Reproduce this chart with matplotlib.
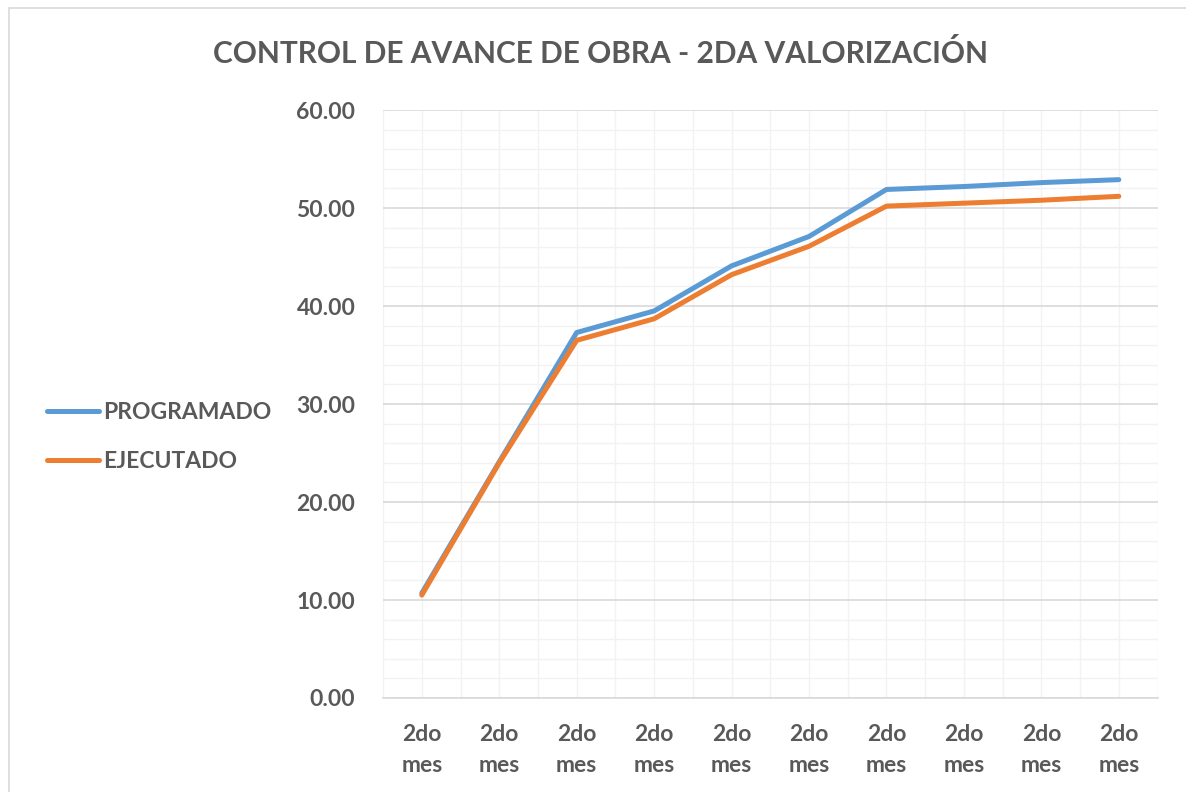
import numpy as np
import matplotlib
matplotlib.use("Agg")
import matplotlib.pyplot as plt
from matplotlib.patches import Rectangle
from matplotlib.ticker import MultipleLocator, FixedLocator

plt.rcParams.update({
    "font.family": ["Lato", "DejaVu Sans"],
    "font.weight": "bold",
})

# Data
categories = ["2do\nmes"] * 10
programado = [10.7, 24.1, 37.3, 39.5, 44.1, 47.1, 51.9, 52.2, 52.6, 52.9]
ejecutado = [10.5, 24.0, 36.5, 38.7, 43.2, 46.1, 50.2, 50.5, 50.8, 51.2]
series_names = ["PROGRAMADO", "EJECUTADO"]
series_colors = ["#5B9BD5", "#ED7D31"]
title = "CONTROL DE AVANCE DE OBRA - 2DA VALORIZACIÓN"

TEXT = "#595959"

fig = plt.figure(figsize=(11.86, 7.92), dpi=100)
fig.patches.append(Rectangle((0.008, -0.01), 1.0, 1.0, transform=fig.transFigure,
                             fill=False, edgecolor="#D9D9D9", linewidth=1.2))
ax = fig.add_axes([0.323, 0.1187, 0.653, 0.7423])

x = np.arange(len(categories))
ax.plot(x, programado, color=series_colors[0], linewidth=3.6,
        solid_capstyle="round", solid_joinstyle="round", label=series_names[0], zorder=3)
ax.plot(x, ejecutado, color=series_colors[1], linewidth=3.6,
        solid_capstyle="round", solid_joinstyle="round", label=series_names[1], zorder=3)

ax.set_xlim(-0.5, len(categories) - 0.5)
ax.set_ylim(0, 60)
ax.yaxis.set_major_locator(MultipleLocator(10))
ax.yaxis.set_minor_locator(MultipleLocator(2))
ax.set_xticks(x)
ax.set_xticklabels(categories)
ax.xaxis.set_minor_locator(FixedLocator(np.arange(-0.5, len(categories), 1.0)))
ax.yaxis.set_major_formatter(matplotlib.ticker.FormatStrFormatter("%.2f"))

ax.grid(which="major", axis="y", color="#D9D9D9", linewidth=1.2)
ax.grid(which="minor", axis="y", color="#F2F2F2", linewidth=1.0)
ax.grid(which="both", axis="x", color="#F2F2F2", linewidth=1.0)
ax.set_axisbelow(True)

for s in ["top", "right", "left"]:
    ax.spines[s].set_visible(False)
ax.spines["bottom"].set_color("#D9D9D9")
ax.spines["bottom"].set_linewidth(1.2)
ax.tick_params(which="both", length=0)
ax.tick_params(axis="y", labelsize=16.5, labelcolor=TEXT, pad=20)
ax.tick_params(axis="x", labelsize=16.5, labelcolor=TEXT, pad=19)
for lbl in ax.get_xticklabels() + ax.get_yticklabels():
    lbl.set_fontweight("bold")
    lbl.set_linespacing(1.55)

fig.text(0.506, 0.932, title, ha="center", va="center", fontsize=21.5,
         color=TEXT, fontweight="bold")

fig.legend(loc="center left", bbox_to_anchor=(0.022, 0.448), frameon=False,
           labelcolor=TEXT, handlelength=2.3, handletextpad=0.15,
           labelspacing=1.2, prop={"weight": "bold", "size": 16.5})

fig.savefig("out.png", dpi=100)
